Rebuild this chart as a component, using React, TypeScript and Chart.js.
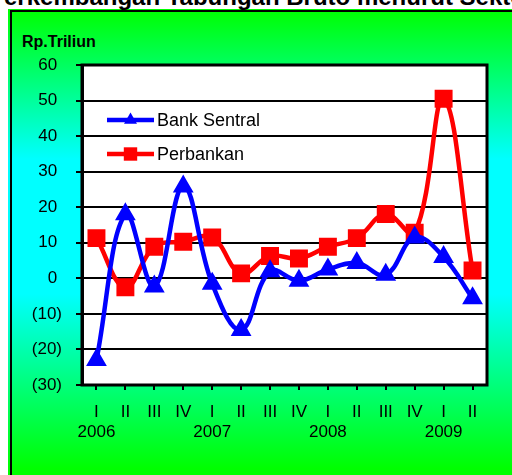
import React, { useEffect, useRef } from "react";
import { Chart, registerables } from "chart.js";

Chart.register(...registerables);

// ---- data ----
const quarters = ["I", "II", "III", "IV", "I", "II", "III", "IV", "I", "II", "III", "IV", "I", "II"];
const years = ["2006", "", "", "", "2007", "", "", "", "2008", "", "", "", "2009", ""];
const bankSentral = [-23, 18, -2.3, 25.8, -1.5, -14.5, 2, -0.7, 2.5, 4.3, 1, 11.5, 6, -5.6];
const perbankan = [11.3, -2.5, 8.9, 10.3, 11.5, 1.4, 6.3, 5.6, 8.9, 11.3, 18.1, 12.8, 50.5, 2.2];
const seriesNames = ["Bank Sentral", "Perbankan"];
const yMin = -30;
const yMax = 60;
const yStep = 10;
const titleText = "Perkembangan Tabungan Bruto menurut Sektor";
const unitText = "Rp.Triliun";

const FONT = "'Liberation Sans', Arial, sans-serif";
const BLUE = "#0000FF";
const RED = "#FF0000";

const labels = quarters.map((q, i) => (years[i] ? [q, years[i]] : q));

const areaPlugin = {
  id: "areaPlugin",
  beforeDraw(chart: any) {
    const { ctx, chartArea: a } = chart;
    ctx.save();
    ctx.fillStyle = "#FFFFFF";
    ctx.fillRect(a.left, a.top, a.right - a.left, a.bottom - a.top);
    ctx.restore();
  },
  afterDraw(chart: any) {
    const { ctx, chartArea: a } = chart;
    ctx.save();
    ctx.strokeStyle = "#000000";
    ctx.lineWidth = 3;
    ctx.strokeRect(a.left, a.top, a.right - a.left, a.bottom - a.top);

    // legend (line + marker style)
    const items = [
      { name: seriesNames[0], color: BLUE, style: "triangle" },
      { name: seriesNames[1], color: RED, style: "rect" },
    ];
    const x0 = a.left + 25;
    const x1 = a.left + 72;
    items.forEach((it, i) => {
      const y = a.top + 55 + i * 34;
      ctx.strokeStyle = it.color;
      ctx.fillStyle = it.color;
      ctx.lineWidth = 4.5;
      ctx.beginPath();
      ctx.moveTo(x0, y);
      ctx.lineTo(x1, y);
      ctx.stroke();
      const cx = (x0 + x1) / 2;
      ctx.beginPath();
      if (it.style === "triangle") {
        const r = 7.5;
        ctx.moveTo(cx, y - r);
        ctx.lineTo(cx + r * 0.866, y + r * 0.5);
        ctx.lineTo(cx - r * 0.866, y + r * 0.5);
        ctx.closePath();
      } else {
        const s = 6.7;
        ctx.rect(cx - s, y - s, 2 * s, 2 * s);
      }
      ctx.fill();
      ctx.fillStyle = "#000000";
      ctx.font = `18px ${FONT}`;
      ctx.textAlign = "left";
      ctx.textBaseline = "middle";
      ctx.fillText(it.name, x1 + 3, y + 1);
    });
    ctx.restore();
  },
};

export default function App() {
  const ref = useRef<HTMLCanvasElement | null>(null);

  useEffect(() => {
    if (!ref.current) return;
    const chart = new Chart(ref.current, {
      type: "line",
      data: {
        labels,
        datasets: [
          {
            label: seriesNames[0],
            data: bankSentral,
            borderColor: BLUE,
            backgroundColor: BLUE,
            pointBackgroundColor: BLUE,
            pointBorderColor: BLUE,
            pointStyle: "triangle",
            pointRadius: 7.5,
            pointHoverRadius: 7.5,
            borderWidth: 4.5,
            tension: 0.4,
            fill: false,
          },
          {
            label: seriesNames[1],
            data: perbankan,
            borderColor: RED,
            backgroundColor: RED,
            pointBackgroundColor: RED,
            pointBorderColor: RED,
            pointStyle: "rect",
            pointRadius: 9.5,
            pointHoverRadius: 9.5,
            borderWidth: 4.5,
            tension: 0.4,
            fill: false,
          },
        ],
      },
      options: {
        responsive: false,
        animation: false,
        layout: { padding: { top: 65, right: 25, left: 0, bottom: 0 } },
        plugins: {
          legend: { display: false },
          tooltip: { enabled: false },
          title: { display: false },
        },
        scales: {
          x: {
            type: "category",
            offset: true,
            grid: {
              drawOnChartArea: false,
              drawTicks: true,
              tickLength: 5,
              color: "#000000",
              lineWidth: 2,
              offset: false,
            },
            border: { display: true, color: "#000000", width: 2 },
            ticks: {
              color: "#000000",
              font: { size: 17, family: FONT },
              padding: 12,
              maxRotation: 0,
              autoSkip: false,
            },
            afterFit: (s: any) => {
              s.height = 90;
            },
          },
          y: {
            min: yMin,
            max: yMax,
            grid: { color: "#000000", lineWidth: 2, tickLength: 6, drawTicks: true },
            border: { display: true, color: "#000000", width: 3 },
            ticks: {
              stepSize: yStep,
              color: "#000000",
              font: { size: 17, family: FONT },
              padding: 14,
              callback: (v: any) => (Number(v) < 0 ? `(${Math.abs(Number(v))})` : `${v} `),
            },
            afterFit: (s: any) => {
              s.width = 82;
            },
          },
        },
      },
      plugins: [areaPlugin],
    } as any);
    return () => chart.destroy();
  }, []);

  return (
    <div
      style={{
        position: "fixed",
        left: 0,
        top: 0,
        width: 512,
        height: 475,
        overflow: "hidden",
        background: "#FFFFFF",
      }}
    >
      <div
        style={{
          position: "absolute",
          left: 8,
          top: 9,
          width: 520,
          height: 480,
          background:
            "linear-gradient(to bottom, #00FF00 0px, #00FFFF 150px, #00FFFF 285px, #00FF00 460px)",
        }}
      >
        <div
          style={{
            position: "absolute",
            left: 2,
            top: 1,
            width: 530,
            height: 500,
            borderLeft: "2px solid #000",
            borderTop: "2px solid #000",
          }}
        />
      </div>
      <div
        style={{
          position: "absolute",
          left: -12,
          top: -15,
          whiteSpace: "nowrap",
          font: `bold 24px/24px ${FONT}`,
          color: "#000",
        }}
      >
        {titleText}
      </div>
      <div
        style={{
          position: "absolute",
          left: 22,
          top: 34,
          whiteSpace: "nowrap",
          font: `bold 16px/16px ${FONT}`,
          color: "#000",
        }}
      >
        {unitText}
      </div>
      <canvas
        ref={ref}
        width={512}
        height={475}
        style={{ position: "absolute", left: 0, top: 0, width: 512, height: 475 }}
      />
    </div>
  );
}
